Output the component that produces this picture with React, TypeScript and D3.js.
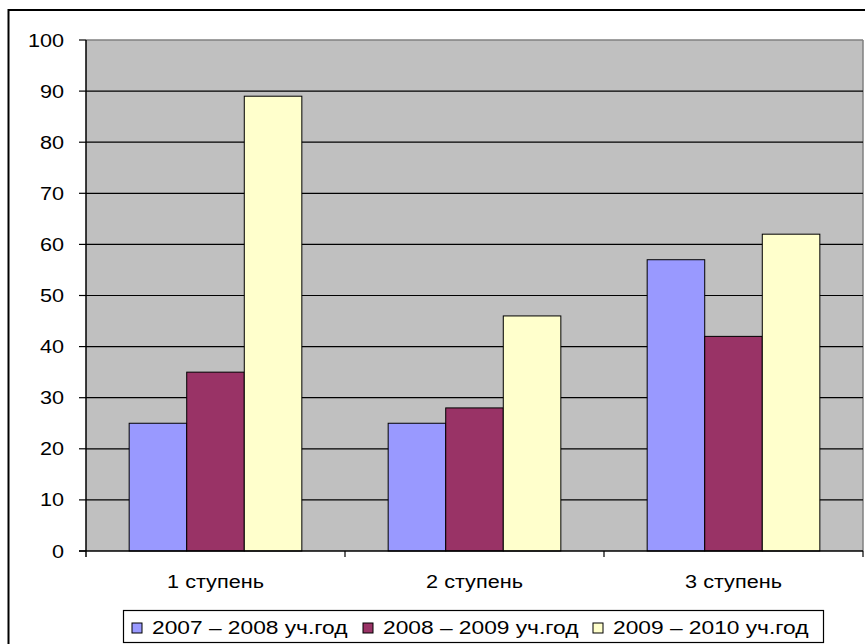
import React from "react";
import * as d3 from "d3";

const categories = ["1 ступень", "2 ступень", "3 ступень"];
const seriesNames = ["2007 – 2008 уч.год", "2008 – 2009 уч.год", "2009 – 2010 уч.год"];
const series2007 = [25, 25, 57];
const series2008 = [35, 28, 42];
const series2009 = [89, 46, 62];
const yTicks = [0, 10, 20, 30, 40, 50, 60, 70, 80, 90, 100];
const colors = ["#9999FF", "#993366", "#FFFFCC"];

const W = 865;
const H = 644;
const left = 86;
const right = 863;
const top = 40;
const bottom = 551;
const SX = 1.17;
const FS = 18.5;
const FONT = "'Liberation Sans', Arial, sans-serif";

function T({ x, y, anchor = "start", sx = SX, children }: any) {
  return (
    <text
      transform={`translate(${x},${y}) scale(${sx},1)`}
      textAnchor={anchor}
      fontFamily={FONT}
      fontSize={FS}
      fill="#000"
    >
      {children}
    </text>
  );
}

export default function App() {
  const allSeries = [series2007, series2008, series2009];
  const x0 = d3.scaleBand<string>().domain(categories).range([left, right]).padding(0);
  const x1 = d3
    .scaleBand<number>()
    .domain([0, 1, 2])
    .range([0, x0.bandwidth()])
    .paddingInner(0)
    .paddingOuter(0.75);
  const y = d3.scaleLinear().domain([0, 100]).range([bottom, top]);

  const legendX = [132, 363, 593];

  return (
    <svg
      width={W}
      height={H}
      style={{ position: "absolute", left: 0, top: 0, background: "#fff" }}
    >
      <rect x={0} y={0} width={W} height={H} fill="#fff" />
      {/* outer frame */}
      <rect x={8.5} y={10} width={W + 20} height={H + 20} fill="none" stroke="#000" strokeWidth={2} />
      {/* plot area */}
      <rect x={left} y={top} width={right - left} height={bottom - top} fill="#C0C0C0" />
      <line x1={left} x2={right} y1={top} y2={top} stroke="#808080" strokeWidth={1.5} />
      <line x1={right} x2={right} y1={top} y2={bottom} stroke="#808080" strokeWidth={1.5} />
      {yTicks.filter((t) => t !== 0 && t !== 100).map((t) => (
        <line key={t} x1={left} x2={right} y1={y(t)} y2={y(t)} stroke="#000" strokeWidth={1.2} />
      ))}
      {/* bars */}
      {categories.map((c, ci) =>
        allSeries.map((s, si) => (
          <rect
            key={c + si}
            x={(x0(c) as number) + (x1(si) as number)}
            y={y(s[ci])}
            width={x1.bandwidth()}
            height={bottom - y(s[ci])}
            fill={colors[si]}
            stroke="#000"
            strokeWidth={1}
          />
        ))
      )}
      {/* axes */}
      <line x1={left} x2={left} y1={top} y2={bottom + 6} stroke="#000" strokeWidth={1.5} />
      <line x1={left - 7} x2={right} y1={bottom} y2={bottom} stroke="#000" strokeWidth={1.5} />
      {yTicks.map((t) => (
        <g key={"t" + t}>
          <line x1={left - 7} x2={left} y1={y(t)} y2={y(t)} stroke="#000" strokeWidth={1.2} />
          <T x={64} y={y(t) + 6.5} anchor="end">
            {t}
          </T>
        </g>
      ))}
      {categories.map((c, ci) => (
        <line
          key={"ct" + ci}
          x1={(x0(c) as number) + x0.bandwidth()}
          x2={(x0(c) as number) + x0.bandwidth()}
          y1={bottom}
          y2={bottom + 6}
          stroke="#000"
          strokeWidth={1.2}
        />
      ))}
      {categories.map((c) => (
        <T key={"cl" + c} x={(x0(c) as number) + x0.bandwidth() / 2} y={588} anchor="middle">
          {c}
        </T>
      ))}
      {/* legend */}
      <rect x={123.5} y={610.5} width={700} height={32} fill="#fff" stroke="#000" strokeWidth={1.2} />
      {seriesNames.map((n, i) => (
        <g key={"lg" + i}>
          <rect x={legendX[i]} y={623} width={10} height={10} fill={colors[i]} stroke="#000" strokeWidth={1} />
          <T x={legendX[i] + 20} y={634} sx={1.23}>
            {n}
          </T>
        </g>
      ))}
    </svg>
  );
}
